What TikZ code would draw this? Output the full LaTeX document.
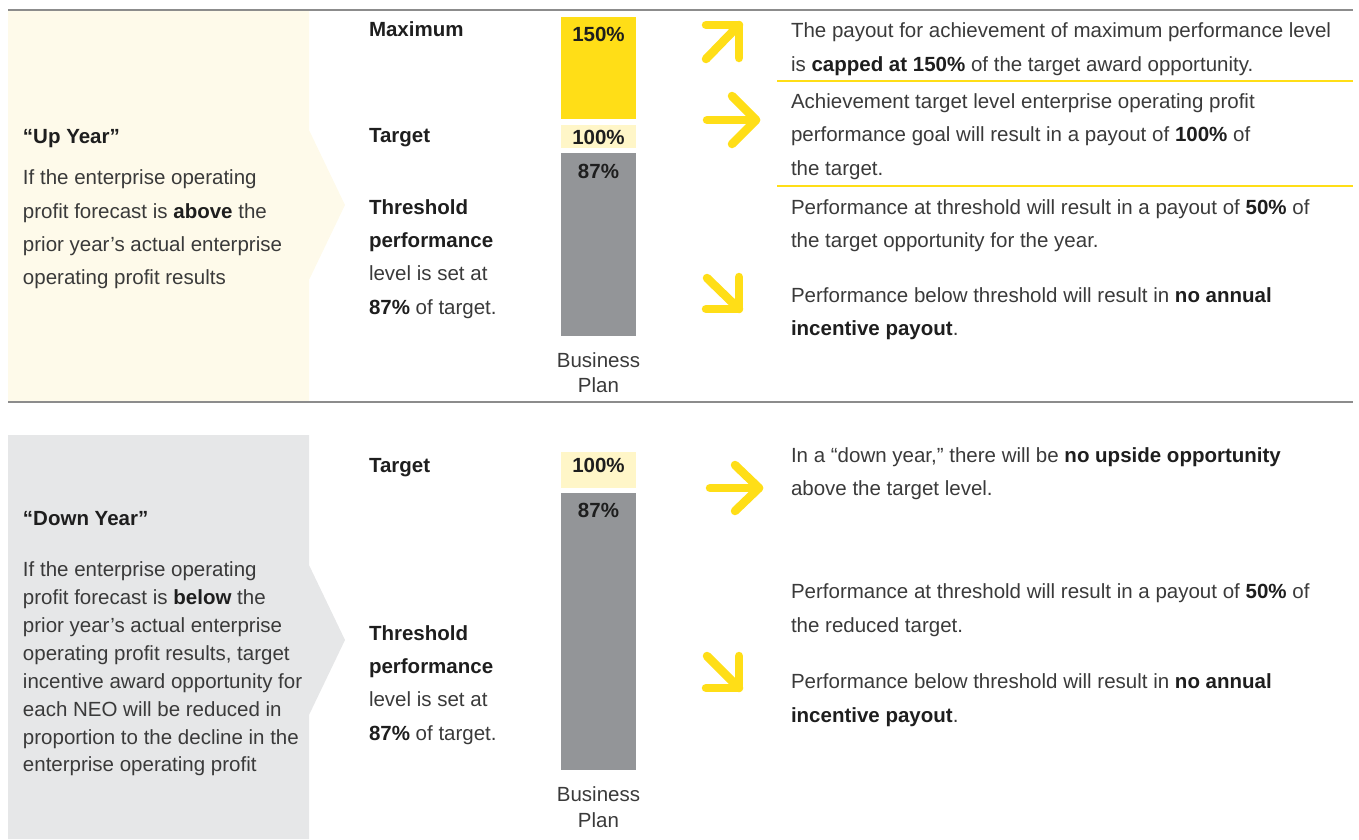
\documentclass[tikz,border=0pt]{standalone}
\usepackage{fontspec}
\setmainfont{Liberation Sans}
\definecolor{txt}{HTML}{3A3A3A}
\definecolor{txtb}{HTML}{1E1E1E}
\definecolor{upfill}{HTML}{FEFAEA}
\definecolor{downfill}{HTML}{E6E7E8}
\definecolor{ybright}{HTML}{FFDE17}
\definecolor{ylight}{HTML}{FFF6C8}
\definecolor{bargray}{HTML}{939598}
\definecolor{rule}{HTML}{8C8C8C}
\newcommand\B[1]{{\bfseries\color{txtb}#1}}
\tikzset{
  txt/.style={anchor=base west, inner sep=0pt, outer sep=0pt, text=txt, font=\fontsize{20.5}{33}\selectfont},
  ctxt/.style={txt, anchor=base},
  yarrow/.style={draw=ybright, line width=8.5pt, line cap=round, line join=round},
  graphrule/.style={draw=rule, line width=1.5pt},
  yrule/.style={draw=ybright, line width=1.5pt}
}
\begin{document}
\begin{tikzpicture}[x=1pt,y=-1pt]
\useasboundingbox (0,0) rectangle (1359,839);
% panels
\fill[upfill] (8,10) -- (309,10) -- (309,130) -- (345,205) -- (309,280) -- (309,401) -- (8,401) -- cycle;
\fill[downfill] (8,435) -- (309,435) -- (309,565) -- (345,640) -- (309,715) -- (309,839) -- (8,839) -- cycle;
% rules
\coordinate (r1a) at (8,10); \coordinate (r1b) at (1353,10);
\coordinate (r2a) at (8,402); \coordinate (r2b) at (1353,402);
\draw[graphrule] (r1a) -- (r1b);
\draw[graphrule] (r2a) -- (r2b);
\coordinate (y1a) at (777,81); \coordinate (y1b) at (1353,81);
\coordinate (y2a) at (777,186); \coordinate (y2b) at (1353,186);
\draw[yrule] (y1a) -- (y1b);
\draw[yrule] (y2a) -- (y2b);
% bars top
\fill[ybright] (561,17) rectangle (636,119);
\fill[ylight] (561,125) rectangle (636,148);
\fill[bargray] (561,153) rectangle (636,336);
\node[ctxt] (b150) at (598.5,41) {\B{150\%}};
\node[ctxt] (b100) at (598.5,144) {\B{100\%}};
\node[ctxt] (b87) at (598.5,178) {\B{87\%}};
\node[ctxt] (bp1) at (598.5,367) {Business};
\node[ctxt] (bp2) at (598.5,392) {Plan};
% bars bottom
\fill[ylight] (561,452) rectangle (636,488);
\fill[bargray] (561,493) rectangle (636,770);
\node[ctxt] (d100) at (598.5,472) {\B{100\%}};
\node[ctxt] (d87) at (598.5,517) {\B{87\%}};
\node[ctxt] (dp1) at (598.5,801) {Business};
\node[ctxt] (dp2) at (598.5,827) {Plan};
% arrows
\draw[yarrow] (706,59) -- (739,25);
\draw[yarrow] (706,25) -- (739,25) -- (739,58);
\draw[yarrow] (707,120) -- (756,120);
\draw[yarrow] (732,96) -- (756,120) -- (732,144);
\draw[yarrow] (707,278) -- (739,309);
\draw[yarrow] (739,277) -- (739,309) -- (706,309);
\draw[yarrow] (710,488) -- (759,488);
\draw[yarrow] (735,465) -- (759,488) -- (735,511);
\draw[yarrow] (707,656) -- (739,688);
\draw[yarrow] (739,656) -- (739,688) -- (706,688);
% up year panel text
\node[txt] (uh) at (23,143) {\B{“Up Year”}};
\node[txt] (u1) at (23,184) {If the enterprise operating};
\node[txt] (u2) at (23,218) {profit forecast is \B{above} the};
\node[txt] (u3) at (23,251) {prior year’s actual enterprise};
\node[txt] (u4) at (23,284) {operating profit results};
% down year panel text
\node[txt] (dh) at (23,525) {\B{“Down Year”}};
\node[txt] (d1) at (23,576) {If the enterprise operating};
\node[txt] (d2) at (23,604) {profit forecast is \B{below} the};
\node[txt] (d3) at (23,632) {prior year’s actual enterprise};
\node[txt] (d4) at (23,660) {operating profit results, target};
\node[txt] (d5) at (23,688) {incentive award opportunity for};
\node[txt] (d6) at (23,716) {each NEO will be reduced in};
\node[txt] (d7) at (23,744) {proportion to the decline in the};
\node[txt] (d8) at (23,771) {enterprise operating profit};
% middle labels top
\node[txt] (mmax) at (369,36) {\B{Maximum}};
\node[txt] (mtgt) at (369,142) {\B{Target}};
\node[txt] (mth1) at (369,214) {\B{Threshold}};
\node[txt] (mth2) at (369,247) {\B{performance}};
\node[txt] (mth3) at (369,280) {level is set at};
\node[txt] (mth4) at (369,314) {\B{87\%} of target.};
% middle labels bottom
\node[txt] (ntgt) at (369,472) {\B{Target}};
\node[txt] (nth1) at (369,640) {\B{Threshold}};
\node[txt] (nth2) at (369,673) {\B{performance}};
\node[txt] (nth3) at (369,706) {level is set at};
\node[txt] (nth4) at (369,740) {\B{87\%} of target.};
% right column top
\node[txt] (t1) at (791,37) {The payout for achievement of maximum performance level};
\node[txt] (t2) at (791,71) {is \B{capped at 150\%} of the target award opportunity.};
\node[txt] (t3) at (791,108) {Achievement target level enterprise operating profit};
\node[txt] (t4) at (791,141) {performance goal will result in a payout of \B{100\%} of};
\node[txt] (t5) at (791,175) {the target.};
\node[txt] (t6) at (791,214) {Performance at threshold will result in a payout of \B{50\%} of};
\node[txt] (t7) at (791,247) {the target opportunity for the year.};
\node[txt] (t8) at (791,302) {Performance below threshold will result in \B{no annual}};
\node[txt] (t9) at (791,335) {\B{incentive payout}.};
% right column bottom
\node[txt] (s1) at (791,462) {In a “down year,” there will be \B{no upside opportunity}};
\node[txt] (s2) at (791,495) {above the target level.};
\node[txt] (s3) at (791,598) {Performance at threshold will result in a payout of \B{50\%} of};
\node[txt] (s4) at (791,632) {the reduced target.};
\node[txt] (s5) at (791,688) {Performance below threshold will result in \B{no annual}};
\node[txt] (s6) at (791,722) {\B{incentive payout}.};
\end{tikzpicture}
\end{document}
